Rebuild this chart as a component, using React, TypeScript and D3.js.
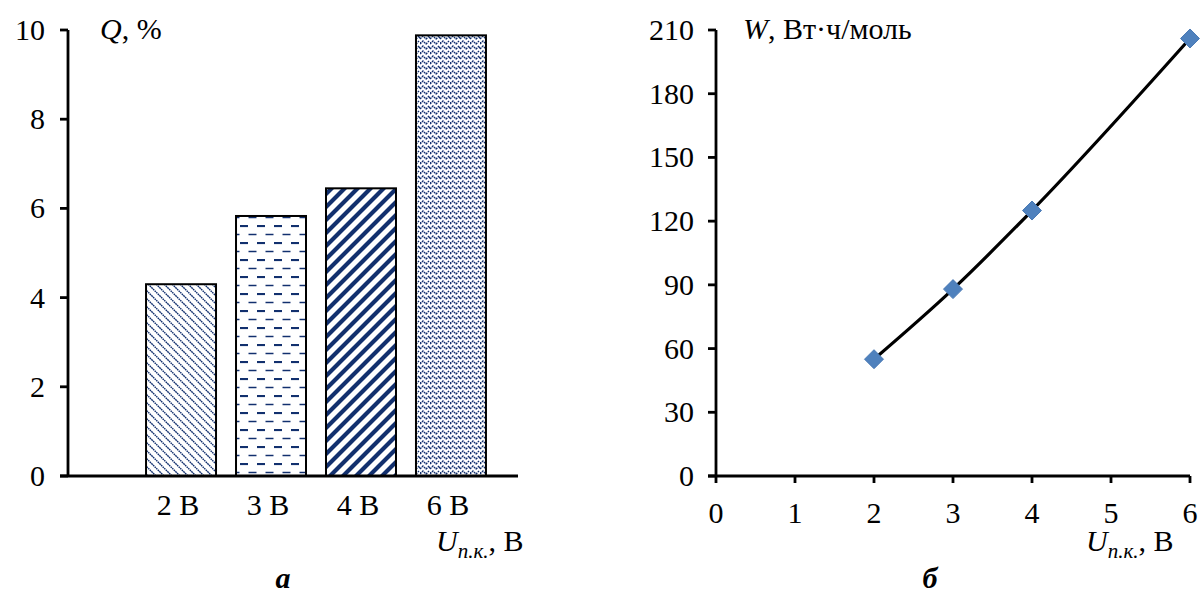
import React from 'react'
import * as d3 from 'd3'

// left panel: Q by voltage
const barCategories = ['2 В', '3 В', '4 В', '6 В'];
const barValues = [4.3, 5.83, 6.45, 9.88];
const barPatterns = ['diagDown', 'dashes', 'wideDiag', 'weave'];
const qTicks = [0, 2, 4, 6, 8, 10];

// right panel: W vs voltage
const wX = [2, 3, 4, 6];
const wY = [55, 88, 125, 206];
const wYTicks = [0, 30, 60, 90, 120, 150, 180, 210];
const wXTicks = [0, 1, 2, 3, 4, 5, 6];

const W = 1201;
const H = 597;
const font = '"Liberation Serif", "Times New Roman", serif';
const fs = 30;
const navy = '#12306e';
const axisW = 2.8;

const plotTop = 30;
const plotBottom = 476;

// left scales
const leftAxisX = 68;
const qScale = d3.scaleLinear().domain([0, 10]).range([plotBottom, plotTop]);
const bandScale = d3.scaleBand<string>()
  .domain(barCategories)
  .range([114, 518])
  .paddingInner(2 / 9)
  .paddingOuter(0.356);

// right scales
const wxScale = d3.scaleLinear().domain([0, 6]).range([716, 1190]);
const wyScale = d3.scaleLinear().domain([0, 210]).range([plotBottom, plotTop]);

const line = d3.line<number>()
  .x((d, i) => wxScale(wX[i]))
  .y(d => wyScale(d))
  .curve(d3.curveMonotoneX);

const diamond = d3.symbol().type(d3.symbolDiamond2).size(230)();

const Patterns = () => (
  <defs>
    <pattern id='diagDown' patternUnits='userSpaceOnUse' width={8} height={8}>
      <path d='M-2,-2 L10,10 M-2,6 L2,10 M6,-2 L10,2' stroke={navy} strokeWidth={1.4} strokeDasharray='1.6 0.6' />
    </pattern>
    <pattern id='dashes' patternUnits='userSpaceOnUse' width={17} height={17} x={2} y={4}>
      <line x1={0} x2={8} y1={1} y2={1} stroke={navy} strokeWidth={2.2} />
      <line x1={8.5} x2={16.5} y1={9.5} y2={9.5} stroke={navy} strokeWidth={1.5} />
    </pattern>
    <pattern id='wideDiag' patternUnits='userSpaceOnUse' width={13} height={13}>
      <path d='M-3,16 L16,-3 M-3,3 L3,-3 M10,16 L16,10' stroke={navy} strokeWidth={4.2} />
    </pattern>
    <pattern id='weave' patternUnits='userSpaceOnUse' width={10} height={10}>
      <path d='M0,4 L3,1 L6,4 L9,1 M0,9 L3,6 L6,9 L9,6 M-1,2 L1,4 M9,7 L11,9'
        stroke={navy} strokeWidth={1.4} fill='none' strokeDasharray='2 0.8' />
    </pattern>
  </defs>
);

const UnitLabel = ({ x, y }: { x: number, y: number }) => (
  <text x={x} y={y} fontSize={fs} fontFamily={font}>
    <tspan fontStyle='italic'>U</tspan>
    <tspan fontStyle='italic' fontSize={21} dy={7}>п.к.</tspan>
    <tspan dy={-7}>, В</tspan>
  </text>
);

const LeftChart = () => (
  <g>
    {barValues.map((v, i) => (
      <rect
        key={i}
        x={bandScale(barCategories[i])}
        y={qScale(v)}
        width={bandScale.bandwidth()}
        height={qScale(0) - qScale(v)}
        fill={`url(#${barPatterns[i]})`}
        stroke='#000'
        strokeWidth={2}
      />
    ))}
    <line x1={leftAxisX} x2={leftAxisX} y1={plotTop} y2={plotBottom} stroke='#000' strokeWidth={axisW} />
    <line x1={60} x2={518} y1={plotBottom} y2={plotBottom} stroke='#000' strokeWidth={axisW} />
    {qTicks.map(t => (
      <g key={t}>
        <line x1={60} x2={leftAxisX} y1={qScale(t)} y2={qScale(t)} stroke='#000' strokeWidth={axisW} />
        <text x={45} y={qScale(t) + 10} textAnchor='end' fontSize={fs} fontFamily={font}>{t}</text>
      </g>
    ))}
    {barCategories.map(c => (
      <text key={c} x={(bandScale(c) ?? 0) + bandScale.bandwidth() / 2 - 3} y={515}
        textAnchor='middle' fontSize={fs} fontFamily={font}>{c}</text>
    ))}
    <text x={100} y={39} fontSize={fs} fontFamily={font}>
      <tspan fontStyle='italic'>Q</tspan>, %
    </text>
    <UnitLabel x={436} y={551} />
    <text x={283} y={588} textAnchor='middle' fontSize={fs} fontFamily={font}
      fontStyle='italic' fontWeight='bold'>а</text>
  </g>
);

const RightChart = () => (
  <g>
    <line x1={wxScale(0)} x2={wxScale(0)} y1={plotTop} y2={plotBottom} stroke='#000' strokeWidth={axisW} />
    <line x1={708} x2={wxScale(6)} y1={plotBottom} y2={plotBottom} stroke='#000' strokeWidth={axisW} />
    {wYTicks.map(t => (
      <g key={t}>
        <line x1={708} x2={wxScale(0)} y1={wyScale(t)} y2={wyScale(t)} stroke='#000' strokeWidth={axisW} />
        <text x={694} y={wyScale(t) + 10} textAnchor='end' fontSize={fs} fontFamily={font}>{t}</text>
      </g>
    ))}
    {wXTicks.map(t => (
      <g key={t}>
        <line x1={wxScale(t)} x2={wxScale(t)} y1={plotBottom} y2={plotBottom + 7} stroke='#000' strokeWidth={axisW} />
        <text x={wxScale(t)} y={523} textAnchor='middle' fontSize={fs} fontFamily={font}>{t}</text>
      </g>
    ))}
    <path d={line(wY) ?? ''} fill='none' stroke='#000' strokeWidth={3.2} />
    {wY.map((v, i) => (
      <path key={i} d={diamond ?? ''} transform={`translate(${wxScale(wX[i])},${wyScale(v)})`}
        fill='#4f81bd' stroke='#4a7ab5' strokeWidth={1} />
    ))}
    <text x={743} y={39} fontSize={fs} fontFamily={font}>
      <tspan fontStyle='italic'>W</tspan>, Вт·ч/моль
    </text>
    <UnitLabel x={1086} y={551} />
    <text x={930} y={588} textAnchor='middle' fontSize={fs} fontFamily={font}
      fontStyle='italic' fontWeight='bold'>б</text>
  </g>
);

const App = () => (
  <svg width={W} height={H} style={{ position: 'absolute', left: 0, top: 0, background: '#fff' }}>
    <Patterns />
    <LeftChart />
    <RightChart />
  </svg>
);

export default App
